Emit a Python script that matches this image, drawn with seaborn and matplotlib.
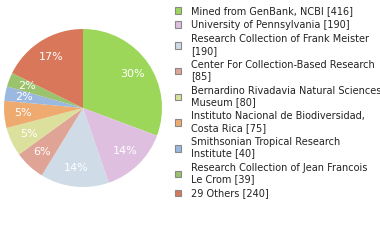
import matplotlib
matplotlib.use('Agg')
import matplotlib.pyplot as plt
import seaborn as sns
from matplotlib.patches import Patch

# data
labels = [
    "Mined from GenBank, NCBI [416]",
    "University of Pennsylvania [190]",
    "Research Collection of Frank Meister\n[190]",
    "Center For Collection-Based Research\n[85]",
    "Bernardino Rivadavia Natural Sciences\nMuseum [80]",
    "Instituto Nacional de Biodiversidad,\nCosta Rica [75]",
    "Smithsonian Tropical Research\nInstitute [40]",
    "Research Collection of Jean Francois\nLe Crom [39]",
    "29 Others [240]",
]
counts = [416, 190, 190, 85, 80, 75, 40, 39, 240]
colors = ["#9dd75a", "#dfbfdf", "#cfdbe6", "#e0a497", "#dbe19d",
          "#efab6f", "#9bb8e0", "#9bc26d", "#d9775a"]

sns.set_style("white")
plt.rcParams['font.family'] = ['DejaVu Sans']

fig = plt.figure(figsize=(3.8, 2.4), dpi=100)
ax = fig.add_axes([4 / 380, 53 / 240, 158 / 380, 158 / 240])

# percentages are truncated, not rounded
ax.pie(
    counts, colors=sns.color_palette(colors), startangle=90, counterclock=False,
    autopct=lambda p: f"{int(p + 1e-9)}%",
    pctdistance=0.76, wedgeprops=dict(linewidth=0),
    textprops=dict(color="white", fontsize=8))
ax.set_xlim(-1, 1)
ax.set_ylim(-1, 1)
ax.set_aspect('equal')

handles = [Patch(facecolor=c, edgecolor="#888888", linewidth=0.8) for c in colors]
fig.legend(handles, labels, loc="upper left", bbox_to_anchor=(175 / 380, 0.975),
           frameon=False, fontsize=7, borderpad=0, borderaxespad=0,
           handlelength=0.65, handleheight=0.65, handletextpad=1.0,
           labelspacing=0.42, labelcolor="#222222")

plt.savefig("out.png", dpi=100)
plt.close()
